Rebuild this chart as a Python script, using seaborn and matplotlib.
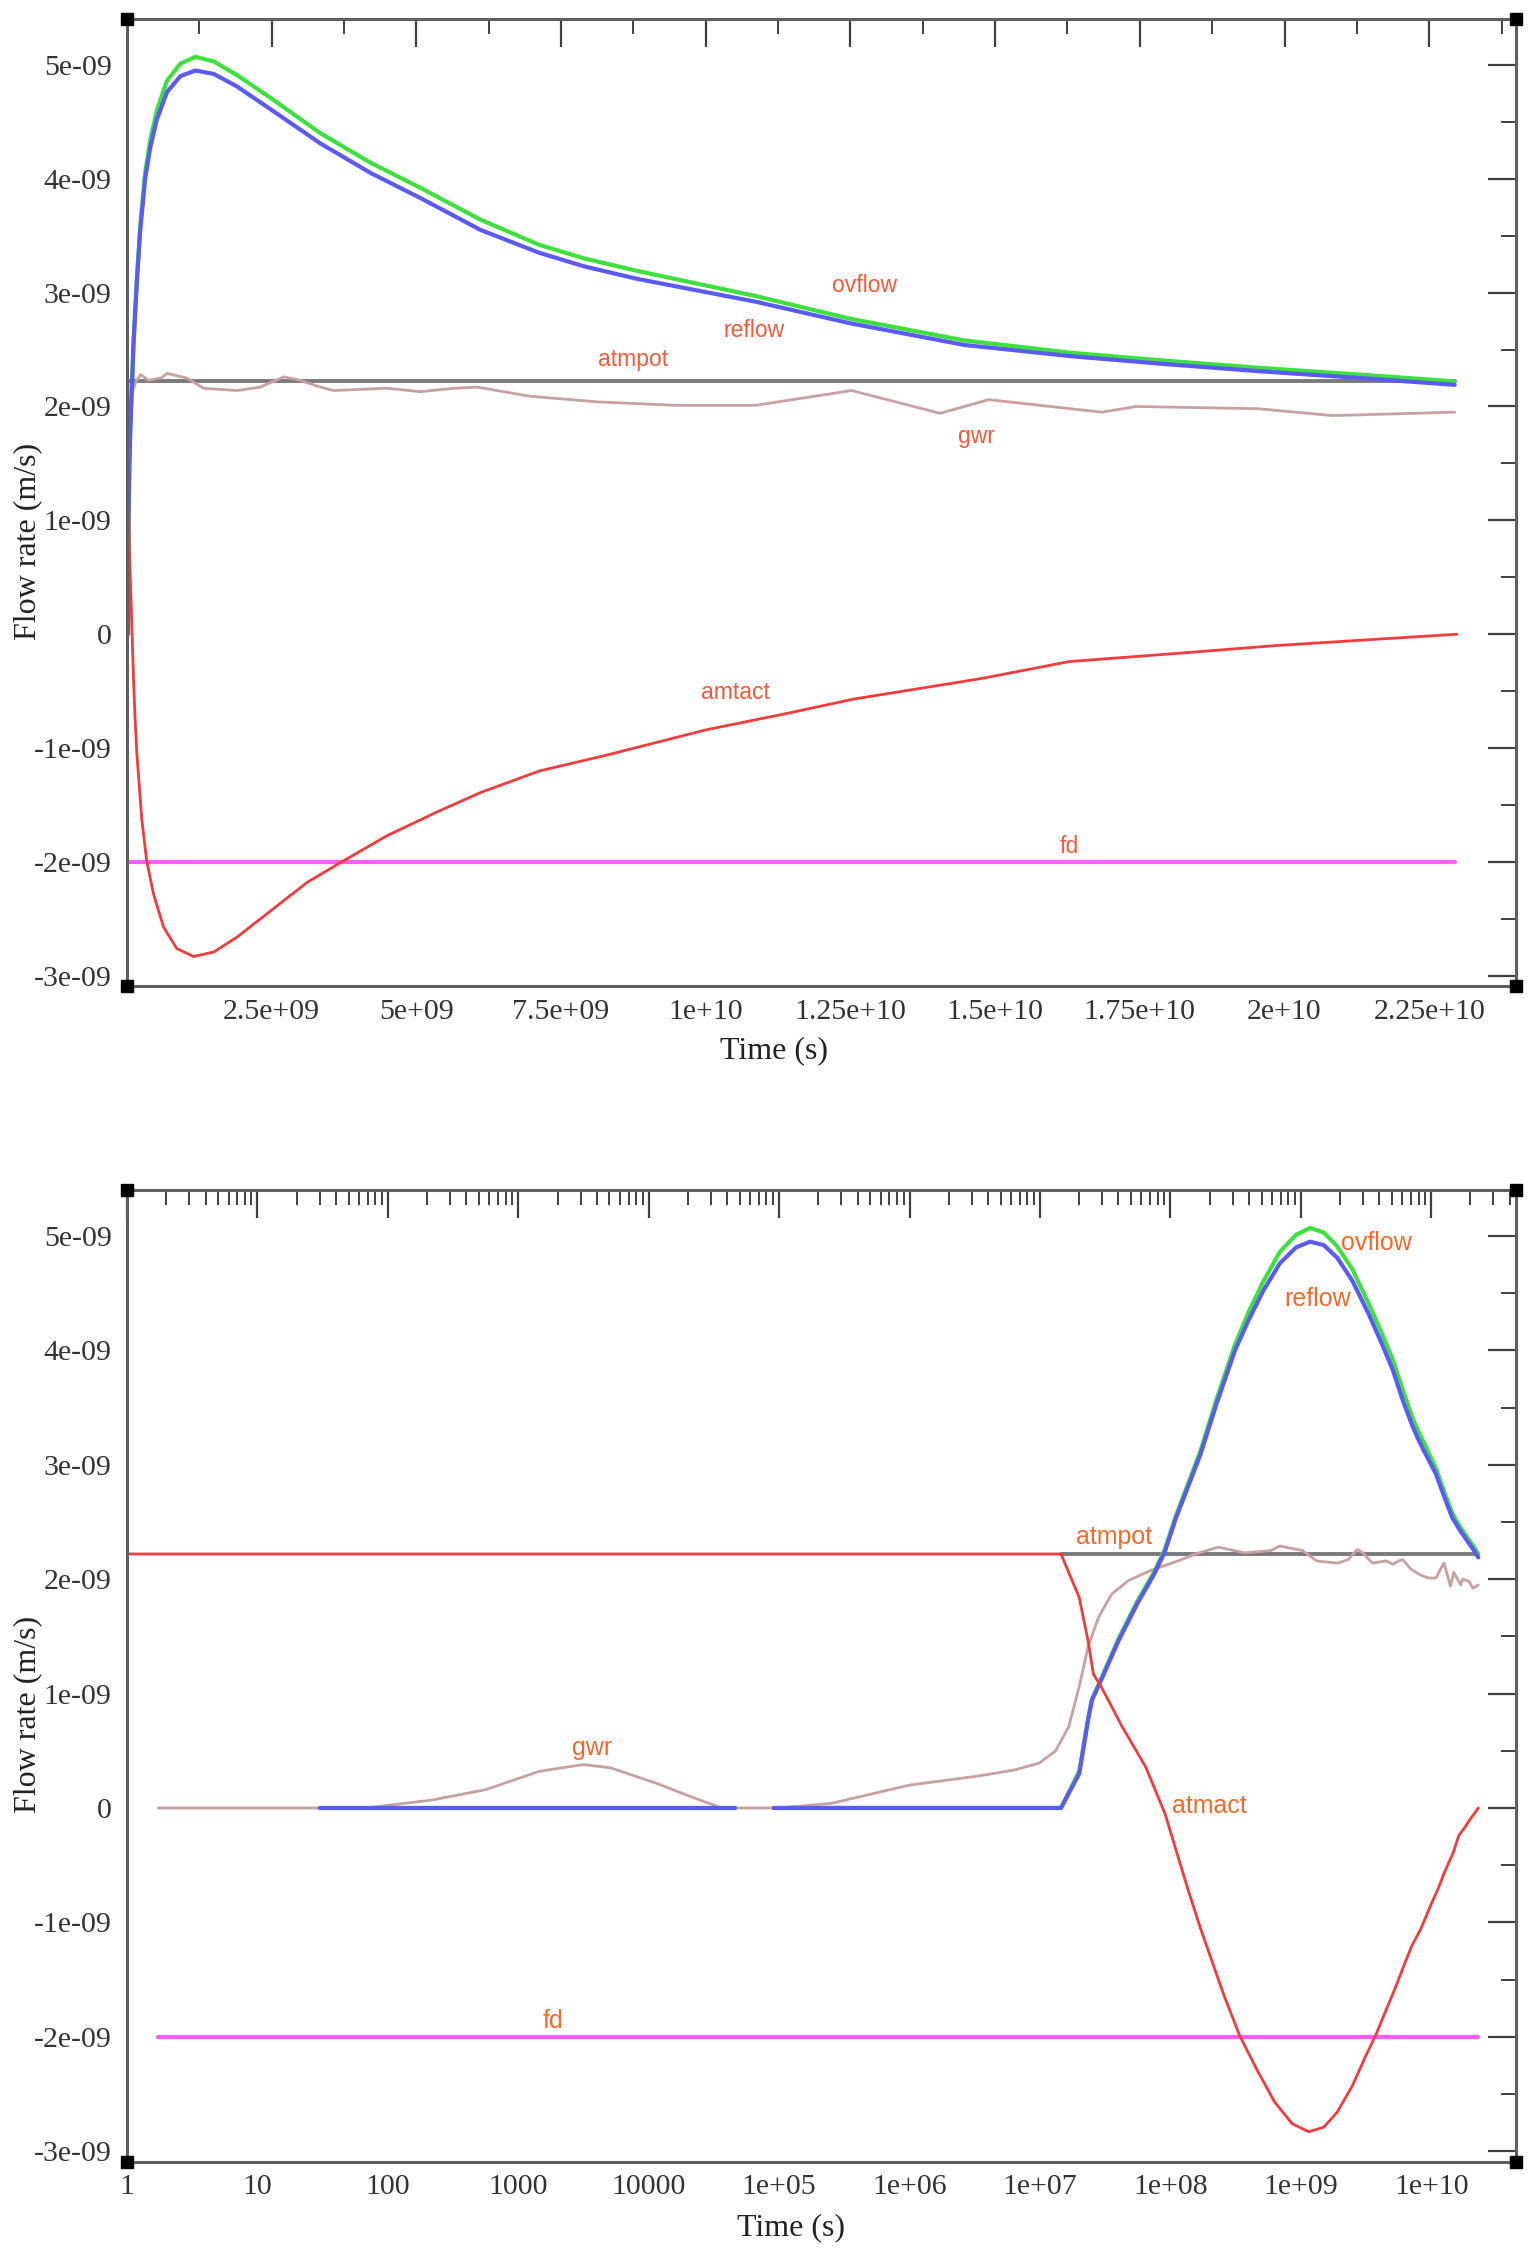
import numpy as np
import pandas as pd
import matplotlib
matplotlib.use("Agg")
import matplotlib.pyplot as plt
import seaborn as sns
from matplotlib.ticker import (FixedLocator, FixedFormatter, MultipleLocator,
                               LogLocator, NullFormatter)

NAN = np.nan

# ---------------- data (flow rates in units of 1e-09 m/s, time in s) ----------------
ovflow_t = [30, 4.6e4, NAN, 9.1e4, 1.45e7, 2.0e7, 2.34e7, 2.5e7, 2.95e7, 4.0e7, 5.6e7, 7.4e7,
            9.0e7, 1.1e8, 1.7e8, 2.27e8, 3.13e8, 4.0e8, 5.15e8, 6.9e8, 9.2e8, 1.18e9, 1.5e9,
            1.9e9, 2.48e9, 3.34e9, 4.21e9, 5.07e9, 6.11e9, 7.12e9, 7.9e9, 8.82e9, 1.086e10,
            1.25e10, 1.447e10, 1.634e10, 1.8e10, 1.955e10, 2.13e10, 2.294e10]
ovflow_v = [0, 0, NAN, 0, 0, 0.32, 0.78, 0.95, 1.13, 1.48, 1.81, 2.05,
            2.25, 2.55, 3.12, 3.58, 4.05, 4.34, 4.60, 4.86, 5.01, 5.07, 5.03,
            4.91, 4.71, 4.40, 4.14, 3.92, 3.64, 3.42, 3.30, 3.19, 2.97,
            2.77, 2.58, 2.47, 2.40, 2.34, 2.28, 2.22]

reflow_t = [30, 4.6e4, NAN, 9.1e4, 1.45e7, 2.0e7, 2.34e7, 2.5e7, 2.95e7, 4.0e7, 5.6e7, 7.4e7,
            9.0e7, 1.1e8, 1.7e8, 2.27e8, 3.13e8, 4.0e8, 5.15e8, 6.9e8, 9.2e8, 1.18e9, 1.5e9,
            1.9e9, 2.48e9, 3.34e9, 4.21e9, 5.07e9, 6.11e9, 7.12e9, 7.9e9, 8.82e9, 1.086e10,
            1.25e10, 1.447e10, 1.634e10, 1.8e10, 1.955e10, 2.13e10, 2.294e10]
reflow_v = [0, 0, NAN, 0, 0, 0.30, 0.77, 0.94, 1.12, 1.46, 1.79, 2.03,
            2.23, 2.53, 3.09, 3.54, 4.00, 4.27, 4.52, 4.76, 4.90, 4.95, 4.92,
            4.81, 4.61, 4.31, 4.05, 3.83, 3.55, 3.35, 3.23, 3.12, 2.92,
            2.73, 2.54, 2.44, 2.37, 2.31, 2.25, 2.19]

atmpot_t = [1.45e7, 2.294e10]
atmpot_v = [2.22, 2.22]

atmact_t = [1, 1.45e7, 2.0e7, 2.34e7, 2.57e7, 2.95e7, 4.27e7, 6.46e7, 9.1e7, 1.1e8, 1.38e8,
            1.7e8, 2.56e8, 3.4e8, 4.57e8, 6.3e8, 8.6e8, 1.15e9, 1.5e9, 1.9e9, 2.48e9, 3.11e9,
            3.74e9, 4.49e9, 5.36e9, 6.11e9, 7.13e9, 8.3e9, 1.0e10, 1.136e10, 1.255e10,
            1.475e10, 1.628e10, 1.81e10, 1.984e10, 2.14e10, 2.298e10]
atmact_v = [2.22, 2.22, 1.84, 1.46, 1.17, 1.06, 0.71, 0.36, -0.05, -0.36, -0.73,
            -1.05, -1.63, -1.99, -2.28, -2.57, -2.76, -2.83, -2.79, -2.66, -2.43, -2.18,
            -1.99, -1.77, -1.56, -1.39, -1.20, -1.06, -0.84, -0.70, -0.57,
            -0.39, -0.24, -0.17, -0.10, -0.05, 0.0]

gwr_t = [1.74, 68, 219, 562, 1445, 3162, 5129, 1.12e4, 2.09e4, 3.63e4, 1.0e5, 2.5e5, 1.0e6,
         3.4e6, 6.2e6, 9.8e6, 1.32e7, 1.66e7, 2.0e7, 2.34e7, 2.82e7, 3.55e7, 4.8e7, 7.2e7,
         1.15e8, 1.55e8, 2.34e8, 3.7e8, 5.9e8, 6.9e8, 1.03e9, 1.32e9, 1.9e9, 2.3e9, 2.71e9,
         2.99e9, 3.34e9, 3.57e9, 4.49e9, 5.07e9, 5.65e9, 6.05e9, 6.96e9, 8.14e9, 9.50e9,
         1.086e10, 1.252e10, 1.405e10, 1.489e10, 1.684e10, 1.744e10, 1.955e10, 2.083e10,
         2.294e10]
gwr_v = [0, 0, 0.07, 0.16, 0.32, 0.38, 0.35, 0.22, 0.10, 0.0, 0.0, 0.04, 0.20,
         0.28, 0.33, 0.39, 0.50, 0.71, 1.06, 1.41, 1.67, 1.87, 1.99, 2.08,
         2.16, 2.22, 2.28, 2.23, 2.25, 2.29, 2.25, 2.16, 2.14, 2.17, 2.26,
         2.23, 2.17, 2.14, 2.16, 2.13, 2.16, 2.17, 2.09, 2.04, 2.01,
         2.01, 2.14, 1.94, 2.06, 1.95, 2.00, 1.98, 1.92,
         1.95]

fd_t = [1.74, 2.294e10]
fd_v = [-2.0, -2.0]

y_ticks = [-3, -2, -1, 0, 1, 2, 3, 4, 5]
y_labels = ["-3e-09", "-2e-09", "-1e-09", "0", "1e-09", "2e-09", "3e-09", "4e-09", "5e-09"]
lin_ticks = [2.5e9, 5e9, 7.5e9, 1e10, 1.25e10, 1.5e10, 1.75e10, 2e10, 2.25e10]
lin_labels = ["2.5e+09", "5e+09", "7.5e+09", "1e+10", "1.25e+10", "1.5e+10",
              "1.75e+10", "2e+10", "2.25e+10"]
log_ticks = [1, 10, 100, 1e3, 1e4, 1e5, 1e6, 1e7, 1e8, 1e9, 1e10]
log_labels = ["1", "10", "100", "1000", "10000", "1e+05", "1e+06", "1e+07",
              "1e+08", "1e+09", "1e+10"]

# label positions (time, value in 1e-09)
top_text = [("ovflow", 1.274e10, 3.06), ("reflow", 1.083e10, 2.67), ("atmpot", 8.74e9, 2.41),
            ("gwr", 1.467e10, 1.74), ("amtact", 1.051e10, -0.51), ("fd", 1.628e10, -1.86)]
bot_text = [("ovflow", 3.8e9, 4.94), ("reflow", 1.35e9, 4.45), ("atmpot", 3.7e7, 2.37),
            ("atmact", 2.0e8, 0.02), ("gwr", 3.7e3, 0.52), ("fd", 1.86e3, -1.86)]

SCALE = 1e-9

# ---------------- style ----------------
sns.set_theme(style="white")
plt.rcParams['font.family'] = ['Liberation Serif', 'DejaVu Serif']
plt.rcParams['axes.edgecolor'] = '#5f5f5f'
plt.rcParams['axes.linewidth'] = 2.2

fig = plt.figure(figsize=(15.36, 22.55), dpi=100)
ax1 = fig.add_axes([0.0827, 0.5627, 0.9043, 0.4290])
ax2 = fig.add_axes([0.0827, 0.04146, 0.9043, 0.4310])
ax2.set_xscale('log')

series = [
    (atmpot_t, atmpot_v, '#7a7a7a', 2.8, 2.0),
    (fd_t, fd_v, '#ff5cff', 3.0, 2.1),
    (gwr_t, gwr_v, '#c9a0a0', 2.0, 2.2),
    (ovflow_t, ovflow_v, '#3ee03e', 3.0, 2.3),
    (reflow_t, reflow_v, '#5a5af4', 3.0, 2.4),
    (atmact_t, atmact_v, '#f03c3c', 2.0, 2.5),
]


def draw(ax, t, v, color, lw, z):
    t = np.asarray(t, float)
    v = np.asarray(v, float)
    seg = np.cumsum(np.isnan(t))
    df = pd.DataFrame({'t': t, 'v': v * SCALE, 'seg': seg}).dropna()
    sns.lineplot(data=df, x='t', y='v', units='seg', estimator=None, sort=False,
                 color=color, linewidth=lw, ax=ax, zorder=z, legend=False)


for ax in (ax1, ax2):
    for t, v, c, lw, z in series:
        draw(ax, t, v, c, lw, z)
    ax.set_ylim(-3.09e-9, 5.405e-9)
    ax.yaxis.set_major_locator(FixedLocator([y * SCALE for y in y_ticks]))
    ax.yaxis.set_major_formatter(FixedFormatter(y_labels))
    ax.yaxis.set_minor_locator(MultipleLocator(0.5e-9))
    ax.tick_params(which='major', direction='in', length=20.5, width=1.6, top=True,
                   right=True, color='#404040', labelsize=21.5, labelcolor='#333333')
    ax.tick_params(which='minor', direction='in', length=10.5, width=1.4, top=True,
                   right=True, color='#404040')
    ax.tick_params(axis='y', which='major', pad=11)
    ax.tick_params(axis='x', which='major', pad=9)
    ax.set_ylabel('Flow rate (m/s)', fontsize=23, color='#222222')
    ax.set_xlabel('Time (s)', fontsize=23, color='#222222')
    ax.yaxis.set_label_coords(-0.061, 0.46)
    for s in ax.spines.values():
        s.set_color('#5f5f5f')
        s.set_linewidth(2.2)
    ax.plot([0, 1, 0, 1], [0, 0, 1, 1], ls='none', marker='s', ms=9, color='black',
            transform=ax.transAxes, clip_on=False, zorder=6)

ax1.set_xlim(0, 2.4e10)
ax1.xaxis.set_major_locator(FixedLocator(lin_ticks))
ax1.xaxis.set_major_formatter(FixedFormatter(lin_labels))
ax1.xaxis.set_minor_locator(MultipleLocator(1.25e9))
ax1.xaxis.set_label_coords(0.466, -0.052)

ax2.set_xlim(1, 4.47e10)
ax2.xaxis.set_major_locator(FixedLocator(log_ticks))
ax2.xaxis.set_major_formatter(FixedFormatter(log_labels))
ax2.xaxis.set_minor_locator(LogLocator(base=10, subs=np.arange(2, 10), numticks=30))
ax2.xaxis.set_minor_formatter(NullFormatter())
ax2.xaxis.set_label_coords(0.478, -0.053)

for name, t, v in top_text:
    ax1.text(t, v * SCALE, name, color='#f25a3c', fontsize=16.5, ha='center', va='center',
             family=['Liberation Sans', 'DejaVu Sans'], zorder=7)
for name, t, v in bot_text:
    ax2.text(t, v * SCALE, name, color='#f26a2a', fontsize=18, ha='center', va='center',
             family=['Liberation Sans', 'DejaVu Sans'], zorder=7)

fig.savefig('out.png', dpi=100)
